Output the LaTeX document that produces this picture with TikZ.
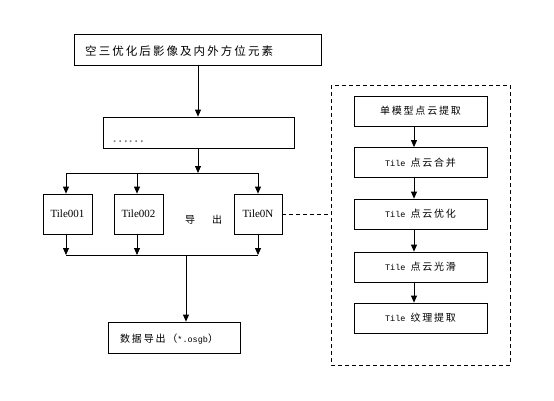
\documentclass[tikz,border=0pt]{standalone}
\usepackage{fontspec}
\setmainfont{Liberation Serif}
\newfontfamily\cjk[LetterSpace=18]{Noto Sans CJK SC}
\newfontfamily\cjkplain{Noto Sans CJK SC}
\newfontfamily\mono{Liberation Mono}
\usetikzlibrary{arrows.meta}
\tikzset{
  box/.style={draw, line width=0.8pt, inner sep=0pt, minimum height=#1},
  box/.default=31pt,
  arr/.style={-{Triangle[length=7pt,width=6pt]}, line width=0.8pt},
  ln/.style={line width=0.8pt},
  dsh/.style={dashed, line width=0.8pt, dash pattern=on 4pt off 3pt},
  ctext/.style={font=\cjk\fontsize{11.5}{13}\selectfont, inner sep=0pt},
  stext/.style={font=\cjk\fontsize{10}{12}\selectfont, inner sep=0pt},
  ttext/.style={font=\fontsize{11}{13}\selectfont, inner sep=0pt},
}
\newcommand{\lat}[1]{{\mono\fontsize{8.5}{10}\selectfont #1}}
\begin{document}
\begin{tikzpicture}[x=1pt,y=-1pt]
\useasboundingbox[fill=white] (0,0) rectangle (554,400);
% left column
\node[box, minimum width=247pt] (top) at (197.5,49.5) {};
\node[ctext, anchor=west] (toptxt) at (85,51) {空三优化后影像及内外方位元素};
\node[box, minimum width=191pt] (mid) at (198.5,132.5) {};
\node[font=\cjkplain\fontsize{15}{16}\selectfont, inner sep=0pt, anchor=west, text=gray] (midtxt) at (112,142) {……};
\node[box=40pt, minimum width=49pt, ttext] (t1) at (67.5,214) {Tile001};
\node[box=40pt, minimum width=49pt, ttext] (t2) at (138.5,214) {Tile002};
\node[box=40pt, minimum width=48pt, ttext] (tn) at (258,214) {Tile0N};
\node[stext] (dao) at (190,220) {导};
\node[stext] (chu) at (217,220) {出};
\node[box, minimum width=132pt] (bot) at (174,337.5) {};
\node[stext, anchor=west] (bottxt) at (120,339) {数据导出（\lat{*.osgb}）};
% buses
\coordinate (b1) at (198,173);
\coordinate (b1l) at (66,173);
\coordinate (b1r) at (258,173);
\coordinate (b2) at (186,255);
\coordinate (b2l) at (66,255);
\coordinate (b2r) at (258,255);
\draw[arr] (top.south -| b1) -- (mid.north -| b1);
\draw[arr] (mid.south -| b1) -- (b1);
\draw[ln] (b1l) -- (b1r);
\draw[arr] (b1l) -- (b1l |- t1.north);
\draw[arr] (b1 -| 137,0) -- (t2.north -| 137,0);
\draw[arr] (b1r) -- (tn.north);
\draw[arr] (t1.south -| b1l) -- (b2l);
\draw[arr] (t2.south -| 137,0) -- (b2 -| 137,0);
\draw[arr] (tn.south) -- (b2r);
\draw[ln] (b2l) -- (b2r);
\draw[arr] (b2) -- (bot.north -| b2);
% right dashed group
\draw[dsh] (331,85) rectangle (510,365);
\coordinate (dl) at (331,214);
\draw[dsh] (tn.east) -- (dl);
\node[box=30pt, minimum width=133pt, stext] (r1) at (420.5,111) {单模型点云提取};
\node[box=30pt, minimum width=133pt, stext] (r2) at (420.5,162.5) {\lat{Tile }点云合并};
\node[box=30pt, minimum width=133pt, stext] (r3) at (420.5,214) {\lat{Tile }点云优化};
\node[box=30pt, minimum width=133pt, stext] (r4) at (420.5,267) {\lat{Tile }点云光滑};
\node[box=30pt, minimum width=133pt, stext] (r5) at (420.5,318) {\lat{Tile }纹理提取};
\coordinate (ax) at (414,0);
\draw[arr] (r1.south -| ax) -- (r2.north -| ax);
\draw[arr] (r2.south -| ax) -- (r3.north -| ax);
\draw[arr] (r3.south -| ax) -- (r4.north -| ax);
\draw[arr] (r4.south -| ax) -- (r5.north -| ax);
\end{tikzpicture}
\end{document}
